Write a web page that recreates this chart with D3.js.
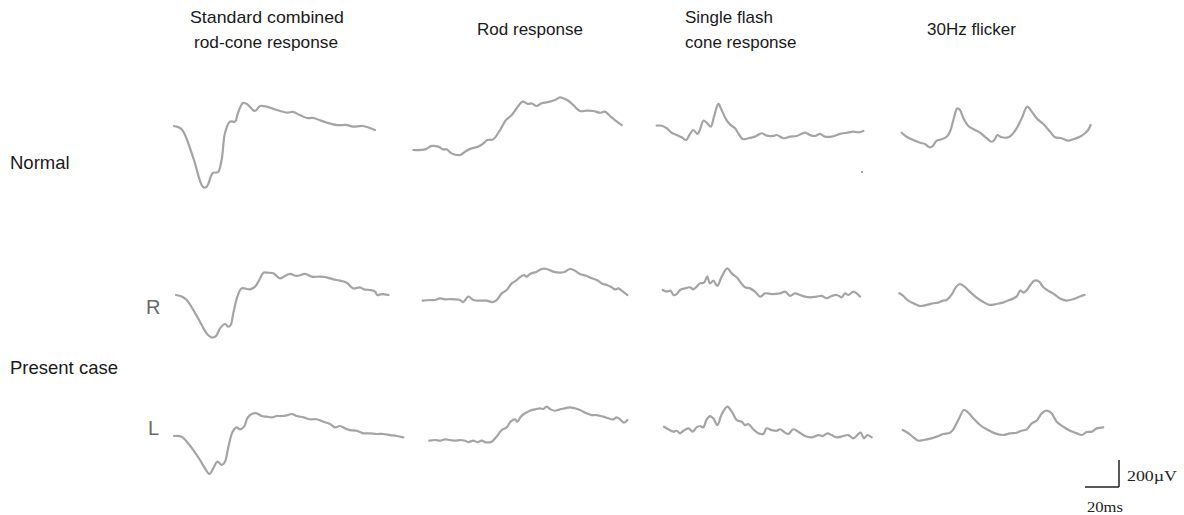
<!DOCTYPE html>
<html><head><meta charset="utf-8">
<script src="https://cdn.jsdelivr.net/npm/d3@7"></script>
<style>body{margin:0;background:#fff}svg{display:block}</style>
</head><body>
<script>
// Column headers and row labels
const columns = [["Standard combined","rod-cone response"],["Rod response"],["Single flash","cone response"],["30Hz flicker"]];
const rowLabels = ["Normal","Present case"];
const eyeLabels = ["R","L"];
const scaleBar = {ms:20, uv:200};

// Traces: [time (ms), amplitude (µV)] relative to trace start
const normalCombined = [[0,0],[4.5,-24],[11.2,-230],[17.1,-452],[19.2,-450],[22.9,-348],[25.9,-341],[28,-252],[30,-52],[32.9,32],[35.9,32],[37.6,96],[40.6,170],[42.9,163],[47.6,111],[50.6,148],[54.7,143],[60.6,118],[66.5,99],[70,104],[74.1,81],[78.2,59],[81.8,59],[90,24],[95.9,7],[101.8,7],[105.3,-5],[111.2,0],[118.2,-30]];
const normalRod = [[0,0],[6.9,5],[10.8,30],[14.7,25],[17.6,5],[19.6,5],[22.5,-25],[27.5,-37],[31.4,-5],[34.3,12],[38.2,25],[41.2,49],[43.5,74],[47,79],[51,148],[54.5,222],[57.9,259],[60.8,309],[64.3,358],[67.6,341],[69.6,346],[72.5,326],[75.5,346],[80.4,358],[83.3,370],[86.3,390],[88.2,383],[91.2,365],[94.1,333],[98,289],[102,291],[106,289],[109.8,276],[112.7,284],[115.7,252],[118.6,222],[122.6,185]];
const normalCone = [[0,0],[2.9,0],[5.9,-19],[8.8,-52],[11.8,-69],[14.7,-86],[17.3,-106],[19.6,-61],[21.6,-32],[24,-61],[25.5,-27],[27.5,37],[29.4,22],[31.8,-7],[33.7,67],[36.3,161],[38.2,116],[40.8,47],[43.1,10],[46.1,-19],[48,-56],[50.6,-99],[53.9,-93],[57.8,-81],[61.8,-56],[64.7,-74],[68.6,-76],[70.6,-69],[74.5,-93],[78.4,-81],[82.4,-76],[87.3,-52],[90.2,-69],[93.1,-76],[96.1,-61],[99,-81],[102.9,-81],[107.8,-61],[111.8,-52],[115.7,-44],[118.6,-49],[121.6,-39]];
const normalFlicker = [[0,0],[2.9,-30],[6.8,-54],[10.8,-74],[13.7,-84],[16.3,-108],[18.2,-99],[20.6,-59],[23.5,-49],[26.5,-30],[28.4,7],[30.4,94],[32.7,180],[34.3,168],[36.3,107],[39.2,50],[43.1,20],[46.1,0],[50,-41],[52.9,-67],[54.8,-49],[56.2,-17],[58.8,-34],[62.7,-34],[64.7,-17],[67.6,32],[70.6,107],[73.9,193],[76.5,156],[79.4,107],[83.3,64],[87.3,7],[90.2,-34],[94.1,-41],[98,-59],[100.9,-49],[104.8,-30],[107.8,-4],[109.7,20],[111.1,57]];

const rightCombined = [[0,0],[3.4,-12],[6.3,-37],[10.2,-111],[14.1,-198],[18,-284],[20.9,-314],[23.5,-304],[25.9,-247],[28.8,-215],[30.8,-235],[32.2,-222],[33.7,-136],[36.1,-12],[38.6,49],[43.5,42],[46.5,62],[49,111],[51.4,165],[54.3,165],[57.3,161],[59.2,141],[61.2,123],[64.1,141],[67.1,156],[71,141],[75.9,156],[79.8,136],[84.7,136],[88.6,131],[92.5,116],[96.5,106],[100.4,91],[104.3,49],[108.2,57],[110.6,42],[114.1,37],[117.1,25],[118.4,0],[121,7],[125,0]];
const rightRod = [[0,0],[4.3,5],[7.2,5],[10.2,17],[13.1,10],[16.1,12],[19,10],[21.9,5],[23.9,-10],[26.8,30],[29.8,5],[33.7,0],[37.6,0],[41.1,-10],[43.5,5],[46.5,54],[49.4,79],[52.4,128],[55.3,153],[57.6,178],[59.6,190],[61.2,178],[63.1,198],[67.1,215],[70,235],[72.9,235],[76.8,215],[80.8,208],[83.7,215],[86.6,235],[89.6,222],[92.5,198],[96.5,183],[99.4,166],[102.4,153],[105.3,128],[108.2,116],[111.2,99],[113.1,84],[115.1,91],[117.1,74],[120.4,42]];
const rightCone = [[0,0],[2.4,-12],[4.7,-5],[6.3,-37],[8.2,-30],[10.2,0],[13.1,12],[16.1,20],[18,5],[20,25],[21.9,49],[24.3,54],[26.2,99],[27.8,49],[29.8,69],[32.1,30],[34.7,99],[38,160],[40.6,123],[43.5,94],[45.5,62],[48.4,20],[51.4,12],[54.3,-12],[57.3,-49],[60.2,-25],[64.1,-30],[69,-25],[72,-12],[74.9,-44],[77.8,-25],[80.8,-37],[83.7,-49],[86.6,-54],[90.6,-49],[93.5,-44],[96.5,-61],[99.4,-44],[102.4,-37],[105.3,-54],[107.3,-25],[109.2,-37],[112.2,-12],[114.1,-25],[116.1,-49]];
const rightFlicker = [[0,0],[2.4,-20],[4.3,-44],[6.3,-62],[9.2,-79],[12.2,-94],[16.1,-86],[20,-74],[22.9,-69],[25.8,-54],[27.8,-49],[30.7,-12],[33.2,44],[35.5,69],[38.4,49],[41.4,12],[45.3,-30],[49.2,-62],[53.1,-86],[57.1,-79],[61,-69],[65,-49],[68.9,-25],[71.2,20],[73.2,5],[75.1,25],[77.1,62],[79.6,94],[82.2,86],[84.5,49],[87.5,20],[90.4,0],[94.3,-37],[98.3,-54],[102.2,-44],[105.1,-30],[107.1,-20],[109,-12]];

const leftCombined = [[0,0],[4.5,-5],[7.5,-42],[11.4,-104],[15.3,-178],[18.2,-240],[20.8,-281],[23.1,-240],[25.5,-190],[28.1,-215],[30,-190],[32,-79],[34.5,32],[36.9,64],[38.8,49],[41.2,69],[43.1,131],[45.7,163],[48.6,168],[51.6,148],[54.5,143],[57.5,138],[60.4,148],[63.3,148],[66.3,153],[69.2,163],[72.2,148],[76.1,138],[80,124],[83.9,124],[87.8,106],[91.8,89],[94.7,64],[97.6,74],[100.6,57],[103.5,44],[107.5,39],[111.4,20],[115.3,20],[119.2,15],[123.1,15],[127.1,7],[131,0],[134.9,-10]];
const leftRod = [[0,0],[3.4,5],[6.3,0],[9.2,10],[12.2,5],[15.1,0],[18,5],[21,0],[22.9,-10],[25.9,0],[28.2,-10],[30.8,0],[33.3,-12],[36.7,-7],[39.6,30],[42.6,79],[45.5,99],[47.8,141],[50.4,158],[51.8,141],[53.8,178],[56.3,203],[59.2,222],[62.2,232],[65.1,240],[67.1,235],[69,252],[71.4,232],[73.9,222],[76.8,232],[79.8,240],[82.7,247],[85.6,240],[88.6,227],[92.5,203],[95.5,190],[98.4,190],[102.4,178],[105.3,166],[108.2,158],[110.2,173],[112.2,158],[114.5,133],[116.5,153]];
const leftCone = [[0,0],[2.5,-19],[5.5,-37],[7.5,-30],[9.4,-49],[11.4,-30],[14.3,-12],[16.9,-37],[19.2,-5],[21.2,5],[23.1,-5],[25.1,54],[27.1,79],[29,62],[31.4,12],[34,94],[37.3,148],[39.9,111],[42.8,49],[45.7,37],[47.6,12],[49.6,20],[52.5,-19],[55.5,-49],[58.4,-54],[60.4,-12],[63.3,-25],[66.3,-30],[68.2,-19],[71.2,-44],[73.1,-54],[76.1,-19],[79,-37],[82.9,-69],[86.9,-79],[90.8,-62],[93.4,-69],[96.1,-49],[98.6,-62],[101.6,-79],[105.5,-69],[108.4,-62],[111.4,-86],[114.3,-54],[115.7,-44],[117.6,-86],[119.6,-62],[122.2,-79]];
const leftFlicker = [[0,0],[3.3,-24],[6.3,-54],[9.2,-79],[12.2,-74],[16.1,-64],[20,-49],[23.9,-30],[27.8,-20],[29.8,5],[32.7,74],[36.1,148],[38.6,128],[41.6,86],[45.5,37],[49.4,5],[54.3,-25],[59.2,-37],[63.1,-25],[67.1,-20],[70,-5],[73,5],[75.9,49],[78.8,69],[81.8,123],[84.7,143],[87.6,123],[90.6,61],[94.5,24],[98.4,-5],[102.4,-25],[105.3,-37],[108.2,-15],[111.2,-12],[114.1,12],[118,20]];

const rows = [
  [normalCombined, normalRod, normalCone, normalFlicker],
  [rightCombined, rightRod, rightCone, rightFlicker],
  [leftCombined, leftRod, leftCone, leftFlicker]
];

// ---- layout ----
const W = 1184, H = 515;
const origins = [
  [[174,126],[413.3,150],[656.7,125.7],[901.7,132.7]],
  [[176,295],[422.7,300.7],[662.7,290],[899.3,293.3]],
  [[174,436],[429.3,440.7],[664,426.7],[902.7,430]]
];
const svg = d3.select("body").append("svg").attr("width", W).attr("height", H);

// shared scales: 20 ms = 34 px, 200 µV = 27 px
const x = d3.scaleLinear().domain([0, 20]).range([0, 34]);
const y = d3.scaleLinear().domain([0, 200]).range([0, -27]);
const line = d3.line().x(d => x(d[0])).y(d => y(d[1])).curve(d3.curveCatmullRom.alpha(0.5));

rows.forEach((row, ri) => {
  row.forEach((trace, ci) => {
    const o = origins[ri][ci];
    svg.append("g").attr("transform", `translate(${o[0]},${o[1]})`)
      .append("path").datum(trace).attr("d", line)
      .attr("fill", "none").attr("stroke", "#a4a4a4").attr("stroke-width", 2.2)
      .attr("stroke-linejoin", "round").attr("stroke-linecap", "round");
  });
});

// small speck in the original scan
svg.append("circle").attr("cx", 862).attr("cy", 172).attr("r", 1).attr("fill", "#888");

const sans = "Liberation Sans, Arial, Helvetica, sans-serif";
function label(tx, ty, s, opts) {
  const t = svg.append("text").attr("x", tx).attr("y", ty)
    .attr("font-family", opts.family || sans).attr("font-size", opts.size || 16)
    .attr("fill", opts.fill || "#1a1a1a").text(s);
  if (opts.len) t.attr("textLength", opts.len).attr("lengthAdjust", "spacingAndGlyphs");
  return t;
}

// headers (start x, baseline y, width or null)
const headerBoxes = [
  [[190, 23, 154], [194, 48, 144]],
  [[477, 35, 106]],
  [[685, 23, null], [685, 48, null]],
  [[927, 35, null]]
];
columns.forEach((lines, i) => {
  lines.forEach((s, k) => {
    const b = headerBoxes[i][k];
    label(b[0], b[1], s, {size: 17, len: b[2]});
  });
});

// row labels
label(10, 169, rowLabels[0], {size: 18.5});
label(10, 374, rowLabels[1], {size: 18.5});
label(146, 314, eyeLabels[0], {size: 20, fill: "#6a6a6a"});
label(148, 435, eyeLabels[1], {size: 20, fill: "#6a6a6a"});

// scale bar
const sb = svg.append("g").attr("transform", "translate(1119,487)");
sb.append("line").attr("x1", 0).attr("x2", 0).attr("y1", 0).attr("y2", y(scaleBar.uv)).attr("stroke", "#222").attr("stroke-width", 1.5);
sb.append("line").attr("x1", 0).attr("x2", -x(scaleBar.ms)).attr("y1", 0).attr("y2", 0).attr("stroke", "#222").attr("stroke-width", 1.5);
const serif = "Liberation Serif, Times New Roman, serif";
label(1127, 481, scaleBar.uv + "µV", {family: serif, size: 15, fill: "#222", len: 50});
label(1087, 512, scaleBar.ms + "ms", {family: serif, size: 15, fill: "#222", len: 36});
</script>
</body></html>
